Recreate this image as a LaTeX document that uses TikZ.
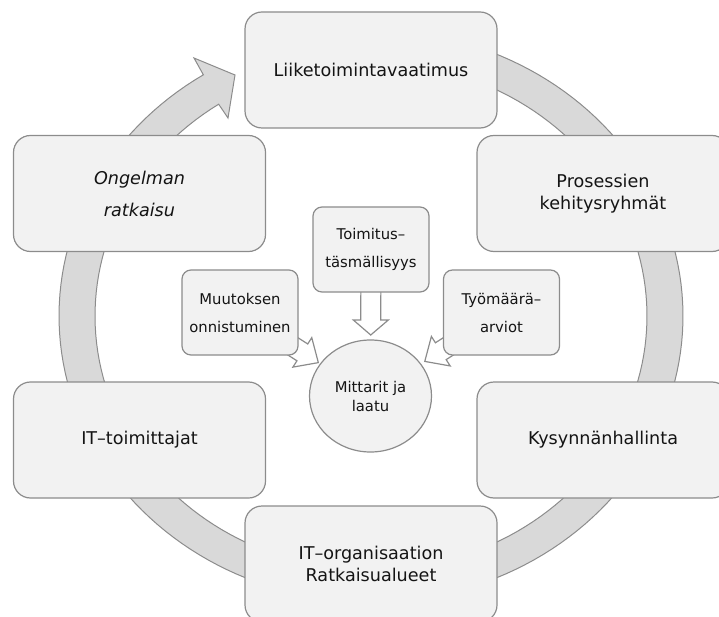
\documentclass[tikz,border=0pt]{standalone}
\usepackage{fontspec}
\setmainfont{DejaVu Sans}
\usetikzlibrary{shapes.geometric,calc}
\pgfdeclarelayer{back}
\pgfsetlayers{back,main}
\definecolor{boxfill}{HTML}{F2F2F2}
\definecolor{boxline}{HTML}{8C8C8C}
\definecolor{bandfill}{HTML}{D9D9D9}
\definecolor{txt}{HTML}{141414}
\newcommand\bigfont{\fontsize{17.6}{22}\selectfont}
\newcommand\smallfont{\fontsize{14.8}{28}\selectfont}
% block arrow from #1 (tail, hidden under a box) to #2 (tip); #3 = head length
\newcommand\blockarrow[3]{%
  \coordinate (ba-h) at ($(#2)!#3!(#1)$);
  \draw[blockarr] ($(#1)!10pt!90:(#2)$) -- ($(ba-h)!10pt!90:(#2)$)
    -- ($(ba-h)!17.5pt!90:(#2)$) -- (#2) -- ($(ba-h)!17.5pt!-90:(#2)$)
    -- ($(ba-h)!10pt!-90:(#2)$) -- ($(#1)!10pt!-90:(#2)$) -- cycle;
}
\tikzset{
  bigbox/.style={draw=boxline, fill=boxfill, line width=1.2pt, rounded corners=17pt,
    minimum width=252pt, minimum height=116pt, align=center, font=\bigfont, text=txt},
  smallbox/.style={draw=boxline, fill=boxfill, line width=1.2pt, rounded corners=9pt,
    minimum width=116pt, minimum height=85pt, align=center, font=\smallfont, text=txt},
  hub/.style={ellipse, draw=boxline, fill=boxfill, line width=1.2pt,
    minimum width=122pt, minimum height=112pt, inner sep=0pt, align=center,
    font=\fontsize{14.8}{19}\selectfont, text=txt},
  band/.style={draw=boxline, fill=bandfill, line width=1pt, line join=miter},
  blockarr/.style={draw=boxline, fill=white, line width=1.2pt, line join=miter},
}
\begin{document}
\begin{tikzpicture}[x=1pt,y=-1pt]
\path[use as bounding box, clip] (0,0) rectangle (719,617);

% outer ring of process boxes
\node[bigbox] (liike)   at (371,70)      {Liiketoimintavaatimus};
\node[bigbox] (proses)  at (603,193.5)   {Prosessien\\kehitysryhmät};
\node[bigbox] (kysynta) at (603,440)     {Kysynnänhallinta};
\node[bigbox] (itorg)   at (371,564)     {IT–organisaation\\Ratkaisualueet};
\node[bigbox] (ittoim)  at (139.5,440)   {IT–toimittajat};
\node[bigbox, font=\itshape\fontsize{17.6}{32}\selectfont] (ongelma) at (139.5,193.5) {Ongelman\\ratkaisu};

% inner metrics
\node[smallbox] (muutos)   at (240,312.5)   {Muutoksen\\onnistuminen};
\node[smallbox] (toimitus) at (371,249.5)   {Toimitus–\\täsmällisyys};
\node[smallbox] (tyomaara) at (501.5,312.5) {Työmäärä–\\arviot};
\node[hub] (mittarit) at (370.5,396) {Mittarit ja\\laatu};

\coordinate (tipT) at ($(toimitus.center)!85.5pt!(mittarit.center)$);
\coordinate (tipM) at ($(muutos.center)!93pt!(mittarit.center)$);
\coordinate (tipY) at ($(tyomaara.center)!91pt!(mittarit.center)$);

\begin{pgfonlayer}{back}
  % clockwise cycle band ending in an arrow head at the upper left
  \draw[band]
    plot[domain=-95:237.5, samples=170, variable=\t] ({371+312*cos(\t)},{316+286*sin(\t)})
    -- (194,58) -- (235,75) -- (228,118)
    -- plot[domain=236.5:-95, samples=170, variable=\t] ({371+276*cos(\t)},{316+254*sin(\t)})
    -- cycle;
  \blockarrow{toimitus.center}{tipT}{15pt}
  \blockarrow{muutos.center}{tipM}{19pt}
  \blockarrow{tyomaara.center}{tipY}{19pt}
\end{pgfonlayer}
\end{tikzpicture}
\end{document}
